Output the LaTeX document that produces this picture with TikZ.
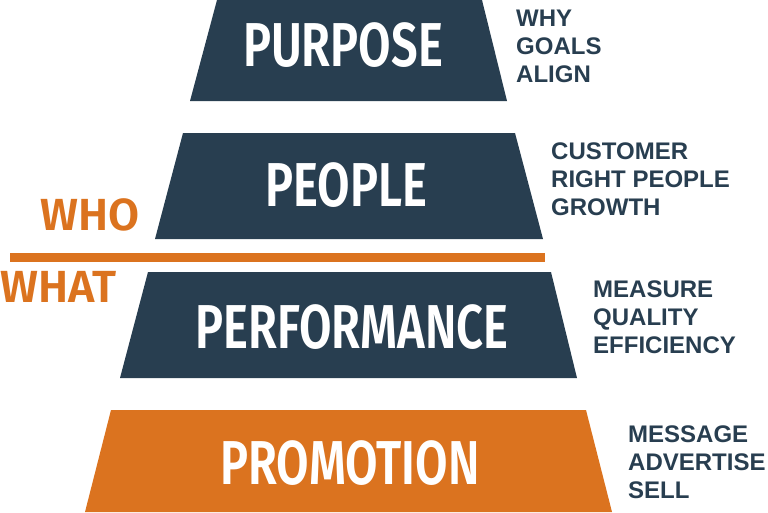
\documentclass[tikz,border=0pt]{standalone}
\usepackage{fontspec}
\setmainfont{Liberation Sans}
\newfontfamily\dinfont[FakeStretch=0.76, UprightFont={* SemiBold}, BoldFont={* SemiBold}]{Fira Sans}
\newfontfamily\cutfont[UprightFont={* SemiBold}, BoldFont={* SemiBold}]{Fira Sans}
\usetikzlibrary{positioning}
\definecolor{slate}{RGB}{40,62,80}
\definecolor{rust}{RGB}{219,115,31}

\begin{document}
\begin{tikzpicture}[x=1pt, y=-1pt, every node/.style={inner sep=0pt},
  tier/.style={font=\dinfont\fontsize{62}{62}\selectfont, text=white, anchor=base},
  side/.style={font=\bfseries\fontsize{24}{28}\selectfont, text=slate, align=left, anchor=north west},
  split/.style={font=\cutfont\fontsize{45}{45}\selectfont, text=rust, anchor=base west}]
	\useasboundingbox (0,0) rectangle (768,512);
	\fill[slate] (217,0) -- (482,0) -- (507,101) -- (190,101) -- cycle;
	\fill[slate] (183,133) -- (515,133) -- (543,239) -- (155,239) -- cycle;
	\fill[slate] (148,272) -- (551,272) -- (577,378) -- (120,378) -- cycle;
	\fill[rust] (111,410) -- (586,410) -- (612,512) -- (85,512) -- cycle;
	\node[tier] (purpose) at (343,66) {PURPOSE};
	\node[tier] (people) at (346,206) {PEOPLE};
	\node[tier] (performance) at (352,348) {PERFORMANCE};
	\node[tier] (promotion) at (350,484) {PROMOTION};
	\node[side] (why) at (516,10) {WHY\\GOALS\\ALIGN};
	\node[side] (customer) at (551,143) {CUSTOMER\\RIGHT PEOPLE\\GROWTH};
	\node[side] (measure) at (593,281) {MEASURE\\QUALITY\\EFFICIENCY};
	\node[side] (message) at (628,426) {MESSAGE\\ADVERTISE\\SELL};
	\coordinate (cut west) at (10,257.5);
	\coordinate (cut east) at (545,257.5);
	\draw[rust, line width=8.5pt] (cut west) -- (cut east);
	\node[split] (who) at (40,230) {WHO};
	\node[split] (what) at (0,302) {WHAT};
\end{tikzpicture}
\end{document}
